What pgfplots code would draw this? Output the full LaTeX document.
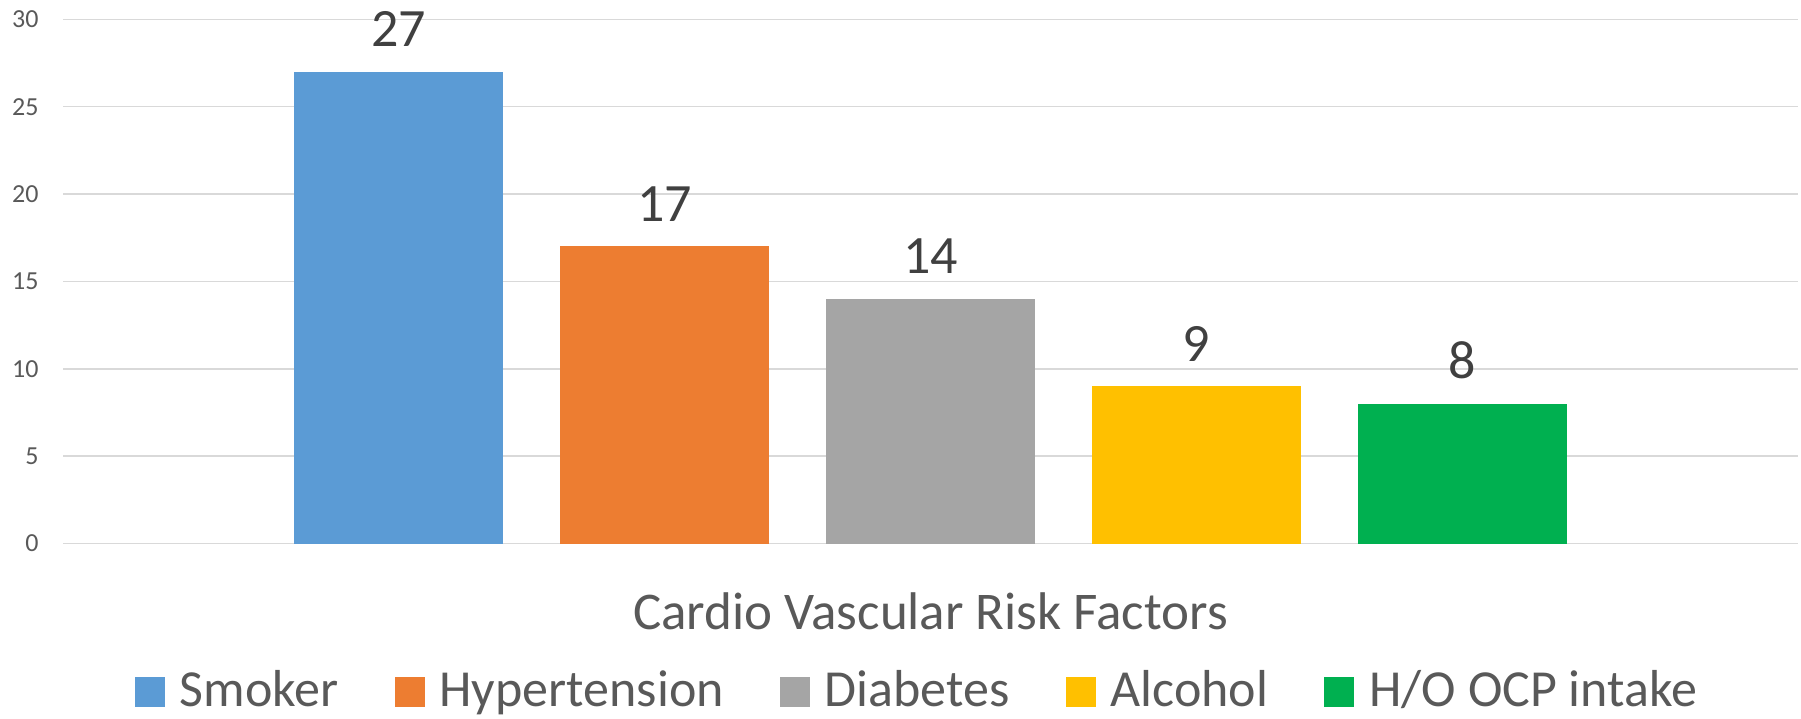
\documentclass[border=0pt]{standalone}
\usepackage{fontspec}
\setmainfont{Carlito}
\usepackage{pgfplots}
\pgfplotsset{compat=1.18}

\definecolor{cblue}{HTML}{5B9BD5}
\definecolor{corange}{HTML}{ED7D31}
\definecolor{cgray}{HTML}{A5A5A5}
\definecolor{cyellow}{HTML}{FFC000}
\definecolor{cgreen}{HTML}{00B050}
\definecolor{gridgray}{HTML}{D9D9D9}
\definecolor{txtgray}{HTML}{595959}
\definecolor{lblgray}{HTML}{404040}

% square legend marker, baseline to ~cap height
\pgfplotsset{sq/.style={legend image code/.code={\fill[##1] (0pt,-6pt) rectangle (15pt,9pt);}}}

\begin{document}
\begin{tikzpicture}
\begin{axis}[
    at={(0,0)}, anchor=south west,
    scale only axis, width=867pt, height=262.1pt,
    ybar=28.5pt, bar width=104.5pt,
    xmin=-1, xmax=1, ymin=0, ymax=30,
    ytick={0,5,...,30}, xtick=\empty,
    axis line style={draw=none},
    ymajorgrids, grid style={color=gridgray, line width=0.8pt},
    major tick length=0pt,
    /pgf/number format/assume math mode=true,
    yticklabel style={font=\fontsize{13}{15}\selectfont, text=txtgray, xshift=-9pt},
    xlabel={Cardio Vascular Risk Factors},
    xlabel style={at={(axis description cs:0.5,0)}, anchor=center, yshift=-34pt,
        font=\fontsize{26.5}{30}\selectfont, text=txtgray},
    nodes near coords,
    nodes near coords style={font=\fontsize{27}{32}\selectfont, text=lblgray, yshift=9pt},
    legend columns=5,
    legend cell align=left,
    legend style={at={(axis description cs:0.4916,-0.2885)}, anchor=center,
        draw=none, fill=none, inner sep=0pt, font=\fontsize{26}{30}\selectfont, text=txtgray,
        nodes={inner sep=0pt, text height=18pt, text depth=6pt},
        /tikz/every odd column/.append style={column sep=7.5pt},
        /tikz/every even column/.append style={column sep=28pt}},
]
\addplot[fill=cblue, draw=none, sq] coordinates {(0,27)};
\addplot[fill=corange, draw=none, sq] coordinates {(0,17)};
\addplot[fill=cgray, draw=none, sq] coordinates {(0,14)};
\addplot[fill=cyellow, draw=none, sq] coordinates {(0,9)};
\addplot[fill=cgreen, draw=none, sq] coordinates {(0,8)};
\legend{Smoker,Hypertension,Diabetes,Alcohol,H/O OCP intake}
\end{axis}
\pgfresetboundingbox
\path (-31.75pt,-87.65pt) rectangle (868.75pt,271.75pt);
\end{tikzpicture}
\end{document}
